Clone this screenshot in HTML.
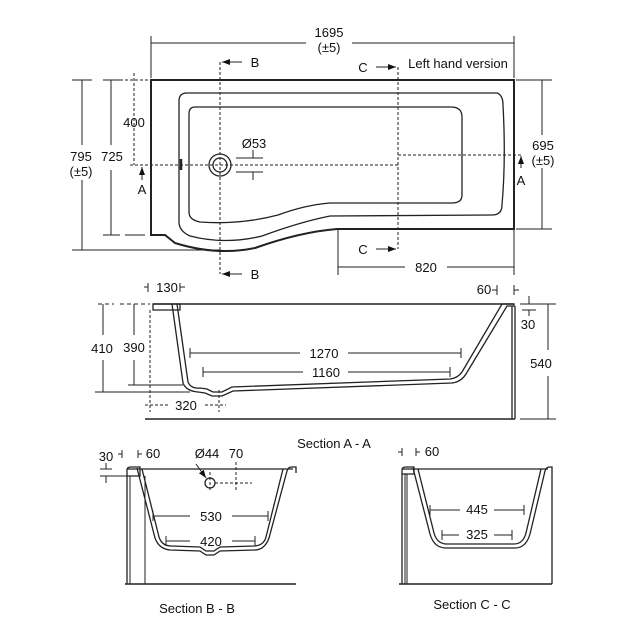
<!DOCTYPE html>
<html><head><meta charset="utf-8"><style>
html,body{margin:0;padding:0;background:#fff}
svg{display:block}
text{font-family:"Liberation Sans",Arial,sans-serif;font-size:13px;fill:#111}
</style></head><body>
<svg width="643" height="643" viewBox="0 0 643 643" xmlns="http://www.w3.org/2000/svg">
<defs>
<marker id="ar" markerWidth="8" markerHeight="6" refX="8" refY="3" orient="auto" markerUnits="userSpaceOnUse"><path d="M0,0 L8,3 L0,6z" fill="#111"/></marker>
</defs>
<g fill="none" stroke="#222" stroke-width="1">
<!-- PLAN VIEW -->
<line x1="151" y1="43" x2="306" y2="43"/><line x1="352" y1="43" x2="514" y2="43"/>
<line x1="151" y1="36" x2="151" y2="78"/><line x1="514" y1="36" x2="514" y2="78"/>
<path d="M151,80 L514,80 L514,229 L337,229 Q300,232 255,248 Q217,256 175,243 L165,235 L151,235 Z" stroke-width="2"/>
<path d="M185,93 L497,93 Q503,95 503,105 Q506,160 502,205 Q502,215 492,215 L330,216 Q300,222 262,236 Q225,245 190,236 Q179,231 179,222 L179,101 Q179,93 187,93 Z" stroke-width="1.3"/>
<path d="M195,107 L451,107 Q462,107 462,117 L462,195 Q462,203 452,203 L330,203 Q305,205 278,215 Q240,225 200,222 Q189,220 189,212 L189,114 Q189,107 195,107 Z" stroke-width="1.3"/>
<line x1="181" y1="159" x2="181" y2="170" stroke-width="2.5"/>
<circle cx="220" cy="165" r="11" stroke-width="1.3"/><circle cx="220" cy="165" r="7" stroke-width="1.3"/>
<g stroke-dasharray="3,2">
<line x1="130" y1="165" x2="398" y2="165"/><line x1="398" y1="155" x2="522" y2="155"/>
<line x1="220" y1="62" x2="220" y2="274"/><line x1="398" y1="67" x2="398" y2="249"/>
<line x1="134" y1="73" x2="134" y2="165"/>
<line x1="110" y1="80" x2="150" y2="80"/>
</g>
<line x1="236" y1="158" x2="263" y2="158"/><line x1="236" y1="172" x2="263" y2="172"/>
<line x1="253" y1="150" x2="253" y2="158"/><line x1="253" y1="172" x2="253" y2="180"/>
<line x1="82" y1="80" x2="82" y2="145"/><line x1="82" y1="180" x2="82" y2="250"/>
<line x1="72" y1="80" x2="92" y2="80"/><line x1="72" y1="250" x2="220" y2="250"/>
<line x1="111" y1="80" x2="111" y2="145"/><line x1="111" y1="170" x2="111" y2="235"/>
<line x1="103" y1="80" x2="120" y2="80"/><line x1="103" y1="235" x2="120" y2="235"/><line x1="125" y1="235" x2="145" y2="235"/>
<line x1="542" y1="80" x2="542" y2="135"/><line x1="542" y1="168" x2="542" y2="229"/>
<line x1="516" y1="80" x2="552" y2="80"/><line x1="516" y1="229" x2="552" y2="229"/>
<line x1="338" y1="229" x2="338" y2="275"/><line x1="514" y1="229" x2="514" y2="275"/>
<line x1="338" y1="267" x2="405" y2="267"/><line x1="447" y1="267" x2="514" y2="267"/>
<line x1="338" y1="262" x2="338" y2="272"/><line x1="514" y1="262" x2="514" y2="272"/>
<line x1="242" y1="62" x2="222" y2="62" marker-end="url(#ar)"/>
<line x1="242" y1="274" x2="222" y2="274" marker-end="url(#ar)"/>
<line x1="376" y1="67" x2="396" y2="67" marker-end="url(#ar)"/>
<line x1="376" y1="249" x2="396" y2="249" marker-end="url(#ar)"/>
<line x1="142" y1="180" x2="142" y2="167" marker-end="url(#ar)"/>
<line x1="521" y1="168" x2="521" y2="156" marker-end="url(#ar)"/>
<!-- SECTION A-A -->
<line x1="153" y1="304" x2="514" y2="304" stroke-width="1.5"/>
<path d="M153,304 L180,304 L180,310 L153,310 Z" stroke-width="1.3"/>
<path d="M177,304 L188,382 Q191,389 200,388 L207,389 L213,392 L222,392 L232,387 L450,379 Q458,378 462,372 L502,304 L514,304 L514,306 L507,306 L466,374 Q461,382 452,383 L233,391 L222,396 L212,396 L205,393 L198,392 Q186,391 183,383 L172,304" stroke-width="1.3"/>
<line x1="512" y1="306" x2="512" y2="419" stroke-width="1.3"/><line x1="515" y1="306" x2="515" y2="419" stroke-width="1.3"/>
<line x1="145" y1="419" x2="515" y2="419" stroke-width="1.5"/>
<line x1="150" y1="310" x2="150" y2="412" stroke-dasharray="3,2"/>
<line x1="145" y1="405" x2="170" y2="405" stroke-dasharray="3,2"/><line x1="205" y1="405" x2="226" y2="405" stroke-dasharray="3,2"/>
<line x1="219" y1="390" x2="219" y2="412" stroke-dasharray="3,2"/>
<line x1="98" y1="304" x2="114" y2="304" stroke-dasharray="4,3"/><line x1="120" y1="304" x2="150" y2="304" stroke-dasharray="4,3"/>
<line x1="103" y1="304" x2="103" y2="335"/><line x1="103" y1="360" x2="103" y2="392"/>
<line x1="95" y1="392" x2="190" y2="392"/>
<line x1="134" y1="304" x2="134" y2="335"/><line x1="134" y1="360" x2="134" y2="385"/>
<line x1="128" y1="385" x2="183" y2="385"/>
<line x1="190" y1="353" x2="300" y2="353"/><line x1="348" y1="353" x2="461" y2="353"/>
<line x1="190" y1="348" x2="190" y2="358"/><line x1="461" y1="348" x2="461" y2="358"/>
<line x1="203" y1="372" x2="303" y2="372"/><line x1="348" y1="372" x2="450" y2="372"/>
<line x1="203" y1="367" x2="203" y2="377"/><line x1="450" y1="367" x2="450" y2="377"/>
<line x1="148" y1="283" x2="148" y2="292"/><line x1="144" y1="287" x2="148" y2="287"/>
<line x1="180" y1="283" x2="180" y2="292"/><line x1="180" y1="287" x2="185" y2="287"/>
<line x1="497" y1="285" x2="497" y2="295"/><line x1="492" y1="290" x2="497" y2="290"/>
<line x1="514" y1="285" x2="514" y2="295"/><line x1="514" y1="290" x2="519" y2="290"/>
<line x1="522" y1="304" x2="536" y2="304"/><line x1="522" y1="310" x2="536" y2="310"/>
<line x1="529" y1="296" x2="529" y2="304"/><line x1="529" y1="310" x2="529" y2="316"/>
<line x1="520" y1="304" x2="556" y2="304"/><line x1="520" y1="419" x2="556" y2="419"/>
<line x1="548" y1="304" x2="548" y2="350"/><line x1="548" y1="376" x2="548" y2="419"/>
<!-- SECTION B-B -->
<line x1="127" y1="469" x2="293" y2="469" stroke-width="1.3"/>
<path d="M127,584 L127,470 Q127,467 131,467 L140,467 L140,476 L127,476" stroke-width="1.3"/>
<line x1="130" y1="476" x2="130" y2="584"/><line x1="145" y1="476" x2="145" y2="584"/>
<line x1="125" y1="584" x2="296" y2="584" stroke-width="1.5"/>
<path d="M137,468 L155,538 Q159,549 170,550 L200,551 L206,555 L214,555 L220,551 L256,550 Q265,549 269,538 L287,471 Q288,467 292,467 L296,467 L296,473" stroke-width="1.3"/>
<path d="M142,469 L159,537 Q162,546 171,546 L200,547 L206,551 L214,551 L220,547 L255,546 Q264,545 266,537 L283,469" stroke-width="1.3"/>
<circle cx="210" cy="483" r="5" stroke-width="1.3"/>
<line x1="196" y1="464" x2="206" y2="478" marker-end="url(#ar)"/>
<g stroke-dasharray="3,2"><line x1="210" y1="472" x2="210" y2="490"/><line x1="215" y1="483" x2="252" y2="483"/><line x1="236" y1="462" x2="236" y2="490"/></g>
<line x1="153" y1="516" x2="190" y2="516"/><line x1="232" y1="516" x2="268" y2="516"/>
<line x1="153" y1="511" x2="153" y2="521"/><line x1="268" y1="511" x2="268" y2="521"/>
<line x1="166" y1="541" x2="190" y2="541"/><line x1="232" y1="541" x2="255" y2="541"/>
<line x1="166" y1="536" x2="166" y2="546"/><line x1="255" y1="536" x2="255" y2="546"/>
<line x1="122" y1="450" x2="122" y2="458"/><line x1="118" y1="454" x2="122" y2="454"/>
<line x1="138" y1="450" x2="138" y2="458"/><line x1="138" y1="454" x2="142" y2="454"/>
<line x1="100" y1="469" x2="112" y2="469"/><line x1="100" y1="476" x2="127" y2="476"/>
<line x1="106" y1="463" x2="106" y2="469"/><line x1="106" y1="476" x2="106" y2="483"/>
<!-- SECTION C-C -->
<line x1="402" y1="469" x2="548" y2="469" stroke-width="1.3"/>
<path d="M402,584 L402,470 Q402,467 406,467 L414,467 L414,474 L402,474" stroke-width="1.3"/>
<line x1="405" y1="474" x2="405" y2="584"/><line x1="407" y1="474" x2="407" y2="584"/>
<line x1="399" y1="584" x2="552" y2="584" stroke-width="1.5"/>
<path d="M413,468 L430,534 Q434,548 446,548 L515,548 Q526,548 530,534 L545,471 Q546,467 550,467 L552,467 L552,584" stroke-width="1.3"/>
<path d="M418,469 L434,533 Q437,544 447,544 L514,544 Q523,544 526,533 L541,469" stroke-width="1.3"/>
<line x1="430" y1="510" x2="460" y2="510"/><line x1="494" y1="510" x2="524" y2="510"/>
<line x1="430" y1="505" x2="430" y2="515"/><line x1="524" y1="505" x2="524" y2="515"/>
<line x1="442" y1="535" x2="459" y2="535"/><line x1="494" y1="535" x2="512" y2="535"/>
<line x1="442" y1="530" x2="442" y2="540"/><line x1="512" y1="530" x2="512" y2="540"/>
<line x1="402" y1="448" x2="402" y2="456"/><line x1="398" y1="452" x2="402" y2="452"/>
<line x1="416" y1="448" x2="416" y2="456"/><line x1="416" y1="452" x2="420" y2="452"/>
</g>
<g text-anchor="middle">
<text x="329" y="37">1695</text><text x="329" y="52">(±5)</text>
<text x="255" y="67">B</text><text x="255" y="279">B</text>
<text x="363" y="72">C</text><text x="363" y="254">C</text>
<text x="458" y="68">Left hand version</text>
<text x="134" y="127">400</text>
<text x="81" y="161">795</text><text x="81" y="176">(±5)</text>
<text x="112" y="161">725</text>
<text x="142" y="194">A</text><text x="521" y="185">A</text>
<text x="254" y="148">Ø53</text>
<text x="543" y="150">695</text><text x="543" y="165">(±5)</text>
<text x="426" y="272">820</text>
<text x="167" y="292">130</text><text x="484" y="294">60</text>
<text x="528" y="329">30</text>
<text x="102" y="353">410</text><text x="134" y="352">390</text>
<text x="324" y="358">1270</text><text x="326" y="377">1160</text>
<text x="186" y="410">320</text>
<text x="541" y="368">540</text>
<text x="334" y="448">Section A - A</text>
<text x="106" y="461">30</text><text x="153" y="458">60</text>
<text x="207" y="458">Ø44</text><text x="236" y="458">70</text>
<text x="211" y="521">530</text><text x="211" y="546">420</text>
<text x="197" y="613">Section B - B</text>
<text x="432" y="456">60</text>
<text x="477" y="514">445</text><text x="477" y="539">325</text>
<text x="472" y="609">Section C - C</text>
</g>
</svg>
</body></html>
